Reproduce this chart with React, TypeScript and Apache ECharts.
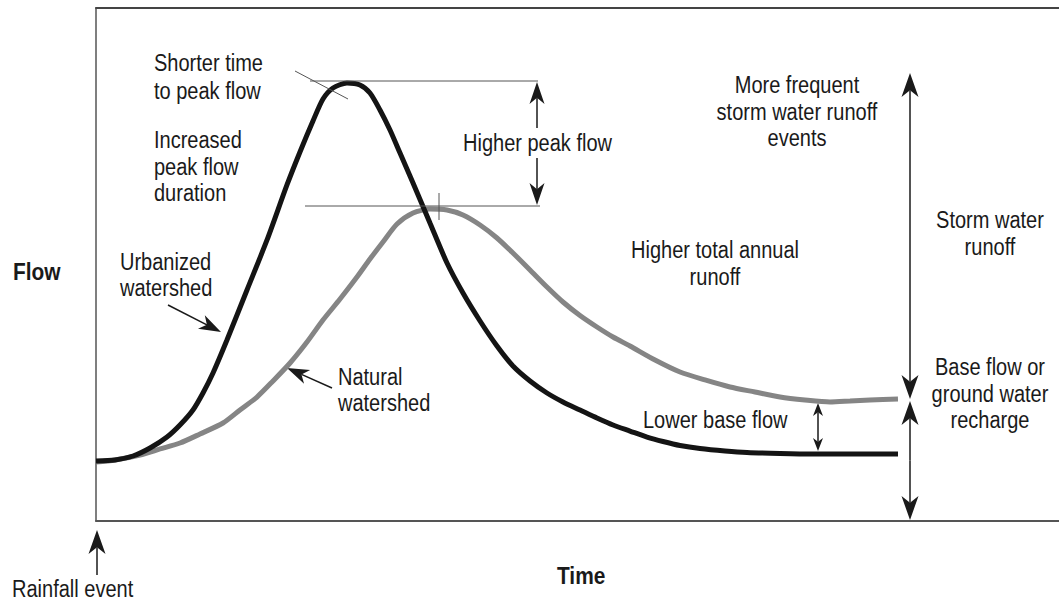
import React, { useEffect, useRef } from "react";
import * as echarts from "echarts";

// Time axis (0..100) and flow axis (0..100)
const urbanTime = [0, 1.97, 3.84, 5.61, 7.37, 8.72, 10.07, 11.11, 12.15, 13.6, 15.68, 17.76, 19.83, 21.18, 22.53, 23.57, 24.61, 26.06, 27.41, 28.45, 29.49, 30.53, 31.57, 32.92, 34.68, 36.45, 38.11, 39.88, 41.64, 43.3, 45.07, 46.83, 48.49, 50.26, 52.02, 53.69, 55.45, 57.22, 58.88, 60.65, 62.72, 65.32, 67.6, 71.03, 74.45, 83.28];
const urbanFlow = [11.7, 11.9, 12.67, 14.23, 16.37, 18.71, 21.64, 24.95, 28.85, 35.28, 45.03, 54.78, 65.5, 71.93, 77.97, 82.26, 84.41, 85.38, 85.0, 83.43, 80.12, 76.22, 71.73, 65.89, 58.09, 50.29, 44.44, 38.99, 34.11, 30.21, 27.29, 24.95, 23.2, 21.64, 20.08, 18.71, 17.54, 16.37, 15.5, 14.72, 14.13, 13.65, 13.35, 13.16, 13.06, 13.06];
const naturalTime = [0, 1.97, 4.57, 6.65, 8.72, 10.8, 13.19, 14.95, 16.72, 18.38, 20.15, 21.91, 23.57, 25.34, 27.1, 28.45, 29.8, 31.26, 32.92, 34.68, 36.45, 38.11, 39.88, 41.64, 43.3, 45.07, 46.83, 48.49, 50.26, 52.02, 53.69, 55.45, 58.05, 60.65, 63.24, 65.84, 68.43, 71.03, 73.62, 76.22, 78.3, 80.37, 83.28];
const naturalFlow = [11.5, 11.9, 12.87, 14.04, 15.2, 16.96, 19.1, 21.64, 24.17, 27.29, 30.8, 34.89, 39.18, 43.27, 47.56, 51.07, 54.39, 57.89, 60.04, 60.82, 60.62, 59.65, 57.7, 55.17, 52.24, 48.93, 45.61, 42.69, 40.06, 37.82, 35.87, 34.11, 31.38, 29.04, 27.49, 26.12, 25.15, 24.17, 23.59, 23.2, 23.39, 23.59, 23.78];
const axisNames = ["Flow", "Time"];

const FONT = '"Liberation Sans", Arial, sans-serif';
const INK = "#1a1a1a";
const SQUEEZE = 0.87;

function arrow(x1: number, y1: number, x2: number, y2: number, L = 22, W = 16, lw = 1.5) {
  const dx = x2 - x1, dy = y2 - y1;
  const len = Math.hypot(dx, dy);
  const ux = dx / len, uy = dy / len;
  const px = -uy, py = ux;
  const bx = x2 - ux * L, by = y2 - uy * L;
  const nx = x2 - ux * (L * 0.72), ny = y2 - uy * (L * 0.72);
  return [
    { type: "line", shape: { x1, y1, x2: nx, y2: ny }, style: { stroke: INK, lineWidth: lw } },
    {
      type: "polygon",
      shape: { points: [[x2, y2], [bx + px * W / 2, by + py * W / 2], [nx, ny], [bx - px * W / 2, by - py * W / 2]] },
      style: { fill: INK },
    },
  ];
}

function dblArrow(x: number, y1: number, y2: number, L = 22, W = 16, lw = 1.5) {
  const mid = (y1 + y2) / 2;
  return [...arrow(x, mid, x, y1, L, W, lw), ...arrow(x, mid, x, y2, L, W, lw)];
}

function txt(text: string, x: number, y: number, align: string, lh = 27, size = 23, bold = false) {
  return {
    type: "text",
    x,
    y,
    scaleX: SQUEEZE,
    style: {
      text,
      x: 0,
      y: 0,
      font: `${bold ? "bold " : ""}${size}px ${FONT}`,
      fill: INK,
      textAlign: align,
      textVerticalAlign: "middle",
      lineHeight: lh,
    },
  };
}

export default function App() {
  const ref = useRef<HTMLDivElement>(null);
  useEffect(() => {
    const chart = echarts.init(ref.current!, null, { renderer: "svg" });
    const urban = urbanTime.map((t, i) => [t, urbanFlow[i]]);
    const natural = naturalTime.map((t, i) => [t, naturalFlow[i]]);
    const thin = { stroke: "#555", lineWidth: 1 };
    chart.setOption({
      animation: false,
      backgroundColor: "#fff",
      grid: { left: 96, right: 0, top: 8, bottom: 80 },
      xAxis: [
        {
          type: "value", min: 0, max: 100,
          axisLine: { show: true, lineStyle: { color: "#555", width: 2 } },
          axisTick: { show: false }, axisLabel: { show: false }, splitLine: { show: false },
        },
        {
          type: "value", min: 0, max: 100, position: "top",
          axisLine: { show: true, lineStyle: { color: "#444", width: 2 } },
          axisTick: { show: false }, axisLabel: { show: false }, splitLine: { show: false },
        },
      ],
      yAxis: {
        type: "value", min: 0, max: 100,
        axisLine: { show: true, lineStyle: { color: "#555", width: 1.5 } },
        axisTick: { show: false }, axisLabel: { show: false }, splitLine: { show: false },
      },
      series: [
        {
          type: "line", data: natural, smooth: 0.25, symbol: "none",
          lineStyle: { color: "#858585", width: 5 }, z: 2,
        },
        {
          type: "line", data: urban, smooth: 0.25, symbol: "none",
          lineStyle: { color: "#141414", width: 5 }, z: 3,
        },
      ],
      graphic: [
        { type: "line", shape: { x1: 295, y1: 71, x2: 348, y2: 99 }, style: thin, z: 10 },
        { type: "line", shape: { x1: 310, y1: 81, x2: 538, y2: 81 }, style: thin, z: 10 },
        { type: "line", shape: { x1: 305, y1: 206, x2: 540, y2: 206 }, style: thin, z: 10 },
        { type: "line", shape: { x1: 439, y1: 193, x2: 439, y2: 220 }, style: thin, z: 10 },
        ...arrow(537, 128, 537, 82, 22, 15),
        ...arrow(537, 158, 537, 205, 22, 15),
        ...arrow(168, 305, 221, 332, 22, 15),
        ...arrow(332, 388, 287, 368, 22, 15),
        ...arrow(97, 575, 97, 530, 24, 17),
        ...dblArrow(910, 73, 399, 24, 17),
        ...dblArrow(910, 401, 520, 24, 17),
        ...dblArrow(818, 403, 451, 13, 10),
        txt("Shorter time\nto peak flow", 154, 77, "left", 28),
        txt("Increased\npeak flow\nduration", 154, 166.5, "left", 26.5),
        txt("Higher peak flow", 463, 143, "left", 24),
        txt("More frequent\nstorm water runoff\nevents", 797, 111.5, "center", 26.5),
        txt("Storm water\nrunoff", 990, 233.5, "center", 27),
        txt("Higher total annual\nrunoff", 715, 263.5, "center", 27),
        txt("Urbanized\nwatershed", 120, 275, "left", 26.5),
        txt("Natural\nwatershed", 338, 390, "left", 26.5),
        txt("Base flow or\nground water\nrecharge", 990, 393.5, "center", 26.5),
        txt("Lower base flow", 643, 420, "left", 24),
        txt(axisNames[0], 13, 272, "left", 24, 24, true),
        txt(axisNames[1], 557, 576, "left", 24, 24, true),
        txt("Rainfall event", 12, 589, "left", 22),
      ],
    });
    return () => chart.dispose();
  }, []);
  return <div ref={ref} style={{ position: "absolute", left: 0, top: 0, width: 1059, height: 601 }} />;
}
